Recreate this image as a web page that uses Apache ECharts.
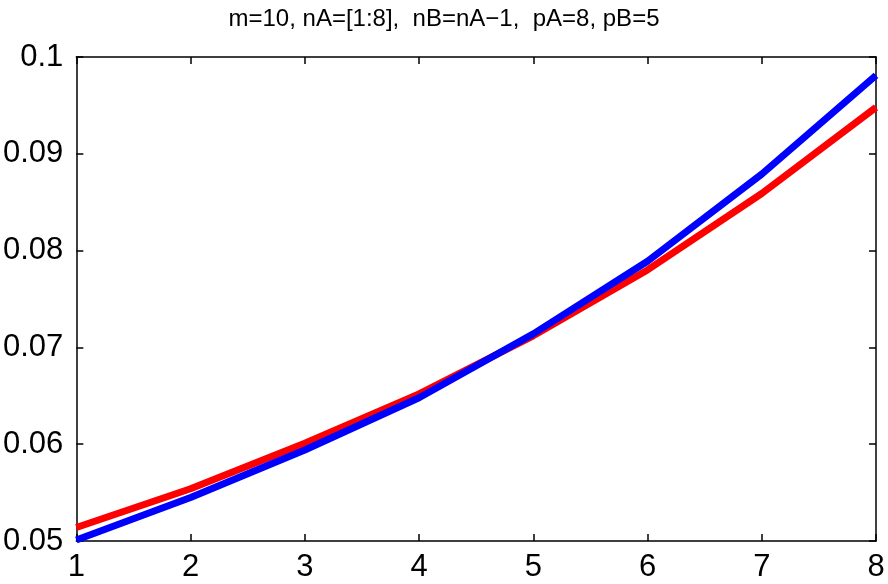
<!DOCTYPE html>
<html>
<head>
<meta charset="utf-8">
<script src="https://cdn.jsdelivr.net/npm/echarts@6/dist/echarts.min.js"></script>
<style>
  html, body { margin: 0; padding: 0; background: #fff; }
  #chart { width: 888px; height: 584px; }
</style>
</head>
<body>
<div id="chart"></div>
<script>
// nA values on the x axis
const nA = [1, 2, 3, 4, 5, 6, 7, 8]
const redValues = [0.0514, 0.0554, 0.0601, 0.0652, 0.0712, 0.0780, 0.0859, 0.0948]
const blueValues = [0.0501, 0.0545, 0.0594, 0.0648, 0.0714, 0.0789, 0.0879, 0.0981]
const titleText = 'm=10, nA=[1:8],  nB=nA\u22121,  pA=8, pB=5'

const chart = echarts.init(document.getElementById('chart'))

const font = 'Liberation Sans, Arial, Helvetica, sans-serif'
const axisLine = { show: true, lineStyle: { color: '#000', width: 1.5 } }
const tick = { show: true, inside: true, length: 7, lineStyle: { color: '#000', width: 1.5 } }

const toPairs = (vals) => nA.map((x, i) => [x, vals[i]])

const option = {
  animation: false,
  backgroundColor: '#fff',
  title: {
    text: titleText,
    left: 'center',
    top: 2,
    textStyle: { fontFamily: font, fontSize: 24, fontWeight: 'normal', color: '#000' },
  },
  grid: { left: 76, right: 12, top: 57, bottom: 43 },
  xAxis: [
    {
      type: 'value', min: 1, max: 8, interval: 1,
      axisLine, axisTick: tick, splitLine: { show: false },
      axisLabel: { color: '#000', fontFamily: font, fontSize: 31, margin: 11 },
    },
    {
      type: 'value', position: 'top', min: 1, max: 8, interval: 1,
      axisLine, axisTick: tick, splitLine: { show: false }, axisLabel: { show: false },
    },
  ],
  yAxis: [
    {
      type: 'value', min: 0.05, max: 0.1, interval: 0.01,
      axisLine, axisTick: tick, splitLine: { show: false },
      axisLabel: {
        color: '#000', fontFamily: font, fontSize: 31, margin: 13,
        formatter: (v) => String(+v.toFixed(2)),
      },
    },
    {
      type: 'value', position: 'right', min: 0.05, max: 0.1, interval: 0.01,
      axisLine, axisTick: tick, splitLine: { show: false }, axisLabel: { show: false },
    },
  ],
  series: [
    {
      type: 'line', data: toPairs(redValues), showSymbol: false,
      lineStyle: { color: '#ff0000', width: 7 }, itemStyle: { color: '#ff0000' },
    },
    {
      type: 'line', data: toPairs(blueValues), showSymbol: false,
      lineStyle: { color: '#0000ff', width: 7 }, itemStyle: { color: '#0000ff' },
    },
  ],
}

chart.setOption(option)
</script>
</body>
</html>
